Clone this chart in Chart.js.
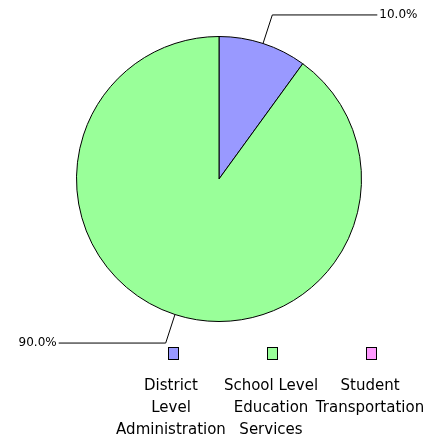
<!DOCTYPE html>
<html>
<head>
<meta charset="utf-8">
<script src="https://cdn.jsdelivr.net/npm/chart.js@4"></script>
<style>
  body { margin: 0; background: #fff; }
  #wrap { width: 439px; height: 441px; }
</style>
</head>
<body>
<div id="wrap"><canvas id="myChart"></canvas></div>
<script>
const categories = ['District Level Administration', 'School Level Education Services', 'Student Transportation'];
const values = [10.0, 90.0, 0.0];
const legendLines = [
  ['District', 'Level', 'Administration'],
  ['School Level', 'Education', 'Services'],
  ['Student', 'Transportation']
];
const colors = ['#9999ff', '#99ff99', '#ff99ff'];

// leader lines + percent labels, and the legend under the pie
const extras = {
  id: 'extras',
  afterDraw(chart) {
    const c = chart.ctx;
    const meta = chart.getDatasetMeta(0);
    const total = values.reduce((a, b) => a + b, 0);
    c.save();
    c.strokeStyle = '#000';
    c.fillStyle = '#000';
    c.lineWidth = 1;
    c.font = '12px "DejaVu Sans"';
    c.textBaseline = 'middle';
    meta.data.forEach((arc, i) => {
      if (!values[i]) return;
      const mid = (arc.startAngle + arc.endAngle) / 2;
      const r = arc.outerRadius;
      const x0 = arc.x + Math.cos(mid) * r, y0 = arc.y + Math.sin(mid) * r;
      const x1 = arc.x + Math.cos(mid) * (r + 30), y1 = arc.y + Math.sin(mid) * (r + 30);
      const right = Math.cos(mid) >= 0;
      const x2 = right ? x1 + 105 : x1 - 107;
      c.beginPath();
      c.moveTo(x0, y0);
      c.lineTo(x1, y1);
      c.lineTo(x2, y1);
      c.stroke();
      const txt = (values[i] / total * 100).toFixed(1) + '%';
      c.textAlign = right ? 'left' : 'right';
      c.fillText(txt, right ? x2 + 2 : x2 - 2, y1);
    });
    // legend
    const boxX = [173, 272, 371];
    const textX = [171, 271, 370];
    c.font = '15px "DejaVu Sans"';
    categories.forEach((name, i) => {
      c.fillStyle = colors[i];
      c.fillRect(boxX[i] - 5, 347, 11, 13);
      c.strokeRect(boxX[i] - 5 + 0.5, 347.5, 10, 12);
      c.fillStyle = '#000';
      c.textAlign = 'center';
      legendLines[i].forEach((ln, k) => {
        c.fillText(ln, textX[i], 386 + k * 22);
      });
    });
    c.restore();
  }
};

new Chart(document.getElementById('myChart'), {
  type: 'pie',
  data: {
    labels: categories,
    datasets: [{
      data: values,
      backgroundColor: colors,
      borderColor: '#000',
      borderWidth: 1
    }]
  },
  options: {
    responsive: true,
    maintainAspectRatio: false,
    animation: false,
    layout: { padding: { top: 36, bottom: 119, left: 76, right: 77 } },
    plugins: {
      legend: { display: false },
      tooltip: { enabled: false }
    }
  },
  plugins: [extras]
});
</script>
</body>
</html>
